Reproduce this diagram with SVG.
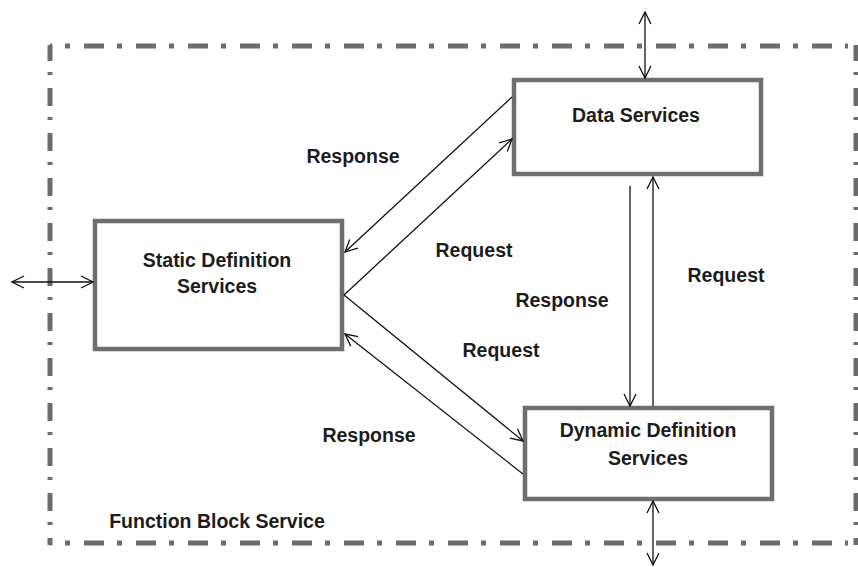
<svg xmlns="http://www.w3.org/2000/svg" width="858" height="567" viewBox="0 0 858 567">
  <defs>
    <marker id="arr" viewBox="0 0 14 14" refX="13" refY="7" markerWidth="14" markerHeight="14" markerUnits="userSpaceOnUse" orient="auto-start-reverse">
      <path d="M1,1 L13,7 L1,13" fill="none" stroke="#111" stroke-width="1.3"/>
    </marker>
    <style>
      .frame-h { stroke:#6b6b6b; stroke-width:5; fill:none; stroke-dasharray:20 13 5 14; stroke-dashoffset:18; }
      .frame-v { stroke:#6b6b6b; stroke-width:5; fill:none; stroke-dasharray:18 11 3 13; stroke-dashoffset:2; }
      .box { fill:#ffffff; stroke:#6e6e6e; stroke-width:4.5; }
      .lbl { font-family:"Liberation Sans", Arial, sans-serif; font-weight:bold; font-size:19.5px; fill:#1c1c1c; text-anchor:middle; }
      .flow { stroke:#111; stroke-width:1.3; fill:none; }
      .one { marker-end:url(#arr); }
      .two { marker-start:url(#arr); marker-end:url(#arr); }
    </style>
  </defs>
  <rect width="858" height="567" fill="#ffffff"/>

  <g id="function-block-service">
    <line class="frame-h" x1="50" y1="46" x2="848" y2="46"/>
    <line class="frame-h" x1="50" y1="543" x2="848" y2="543"/>
    <line class="frame-v" x1="50" y1="45" x2="50" y2="545"/>
    <line class="frame-v" x1="856" y1="45" x2="856" y2="545"/>
    <text class="lbl" x="217" y="528">Function Block Service</text>
  </g>

  <g id="static-definition-services">
    <rect class="box" x="95" y="221" width="247" height="128"/>
    <text class="lbl" x="217" y="267">Static Definition</text>
    <text class="lbl" x="217" y="293">Services</text>
  </g>

  <g id="data-services">
    <rect class="box" x="514" y="80" width="247" height="94"/>
    <text class="lbl" x="636" y="122">Data Services</text>
  </g>

  <g id="dynamic-definition-services">
    <rect class="box" x="525" y="408" width="247" height="91"/>
    <text class="lbl" x="648" y="437">Dynamic Definition</text>
    <text class="lbl" x="648" y="465">Services</text>
  </g>

  <g id="connectors">
    <line class="flow two" x1="12" y1="282" x2="93" y2="282"/>
    <line class="flow two" x1="645" y1="12" x2="645" y2="78"/>
    <line class="flow two" x1="653" y1="501" x2="653" y2="565"/>
    <line class="flow one" x1="512" y1="97" x2="345" y2="252"/>
    <line class="flow one" x1="344" y1="295" x2="512" y2="139"/>
    <line class="flow one" x1="344" y1="295" x2="523" y2="441"/>
    <line class="flow one" x1="523" y1="474" x2="345" y2="334"/>
    <line class="flow one" x1="630" y1="186" x2="630" y2="406"/>
    <line class="flow one" x1="653" y1="406" x2="653" y2="177"/>
    <text class="lbl" x="353" y="163">Response</text>
    <text class="lbl" x="474" y="257">Request</text>
    <text class="lbl" x="726" y="282">Request</text>
    <text class="lbl" x="562" y="307">Response</text>
    <text class="lbl" x="501" y="357">Request</text>
    <text class="lbl" x="369" y="442">Response</text>
  </g>
</svg>
